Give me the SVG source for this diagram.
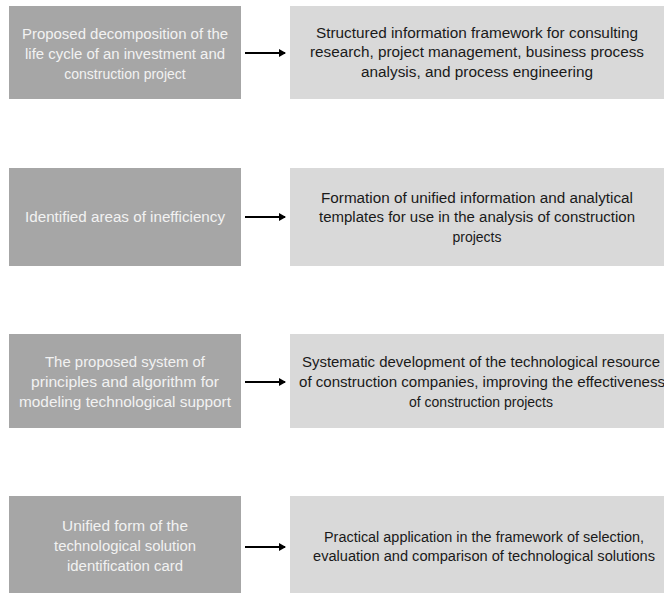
<svg xmlns="http://www.w3.org/2000/svg" width="664" height="593" viewBox="0 0 664 593">
<defs>
<style>
.l{fill:#a6a6a6}
.r{fill:#d9d9d9}
.lt{font-family:"Liberation Sans",Arial,sans-serif;font-size:14px;fill:#f2f2f2;text-anchor:middle}
.rt{font-family:"Liberation Sans",Arial,sans-serif;font-size:14px;fill:#1a1a1a;text-anchor:middle}
.c{stroke:#000;stroke-width:2;fill:none}
</style>
<marker id="ah" markerWidth="8" markerHeight="8" refX="6" refY="4" orient="auto" markerUnits="userSpaceOnUse">
<path d="M0,0 L7,4 L0,8 Z" fill="#000"/>
</marker>
</defs>
<rect width="664" height="593" fill="#fff"/>
<g id="n1">
<rect class="l" x="9" y="6" width="232" height="93"/>
<text class="lt" x="125" y="39" textLength="206" lengthAdjust="spacingAndGlyphs">Proposed decomposition of the</text>
<text class="lt" x="125" y="59" textLength="200" lengthAdjust="spacingAndGlyphs">life cycle of an investment and</text>
<text class="lt" x="125" y="79">construction project</text>
</g>
<g id="n2">
<rect class="r" x="290" y="6" width="374" height="93"/>
<text class="rt" x="477" y="38" textLength="322" lengthAdjust="spacingAndGlyphs">Structured information framework for consulting</text>
<text class="rt" x="477" y="57" textLength="334" lengthAdjust="spacingAndGlyphs">research, project management, business process</text>
<text class="rt" x="477" y="77" textLength="232" lengthAdjust="spacingAndGlyphs">analysis, and process engineering</text>
</g>
<g id="n3">
<rect class="l" x="9" y="168" width="232" height="98"/>
<text class="lt" x="125" y="222" textLength="200" lengthAdjust="spacingAndGlyphs">Identified areas of inefficiency</text>
</g>
<g id="n4">
<rect class="r" x="290" y="168" width="374" height="98"/>
<text class="rt" x="477" y="203" textLength="312" lengthAdjust="spacingAndGlyphs">Formation of unified information and analytical</text>
<text class="rt" x="477" y="222" textLength="316" lengthAdjust="spacingAndGlyphs">templates for use in the analysis of construction</text>
<text class="rt" x="477" y="242">projects</text>
</g>
<g id="n5">
<rect class="l" x="9" y="334" width="232" height="94"/>
<text class="lt" x="125" y="367" textLength="160" lengthAdjust="spacingAndGlyphs">The proposed system of</text>
<text class="lt" x="125" y="387" textLength="188" lengthAdjust="spacingAndGlyphs">principles and algorithm for</text>
<text class="lt" x="125" y="407" textLength="212" lengthAdjust="spacingAndGlyphs">modeling technological support</text>
</g>
<g id="n6">
<rect class="r" x="290" y="334" width="374" height="94"/>
<text class="rt" x="481" y="367" textLength="358" lengthAdjust="spacingAndGlyphs">Systematic development of the technological resource</text>
<text class="rt" x="482" y="387" textLength="366" lengthAdjust="spacingAndGlyphs">of construction companies, improving the effectiveness</text>
<text class="rt" x="481" y="407">of construction projects</text>
</g>
<g id="n7">
<rect class="l" x="9" y="496" width="232" height="97"/>
<text class="lt" x="125" y="531" textLength="126" lengthAdjust="spacingAndGlyphs">Unified form of the</text>
<text class="lt" x="125" y="551" textLength="142" lengthAdjust="spacingAndGlyphs">technological solution</text>
<text class="lt" x="125" y="571" textLength="116" lengthAdjust="spacingAndGlyphs">identification card</text>
</g>
<g id="n8">
<rect class="r" x="290" y="496" width="374" height="97"/>
<text class="rt" x="484" y="542" textLength="320" lengthAdjust="spacingAndGlyphs">Practical application in the framework of selection,</text>
<text class="rt" x="484" y="561" textLength="342" lengthAdjust="spacingAndGlyphs">evaluation and comparison of technological solutions</text>
</g>
<g id="connectors">
<line class="c" x1="245" y1="53" x2="285" y2="53" marker-end="url(#ah)"/>
<line class="c" x1="245" y1="217" x2="285" y2="217" marker-end="url(#ah)"/>
<line class="c" x1="245" y1="382" x2="285" y2="382" marker-end="url(#ah)"/>
<line class="c" x1="245" y1="547" x2="285" y2="547" marker-end="url(#ah)"/>
</g>
</svg>
